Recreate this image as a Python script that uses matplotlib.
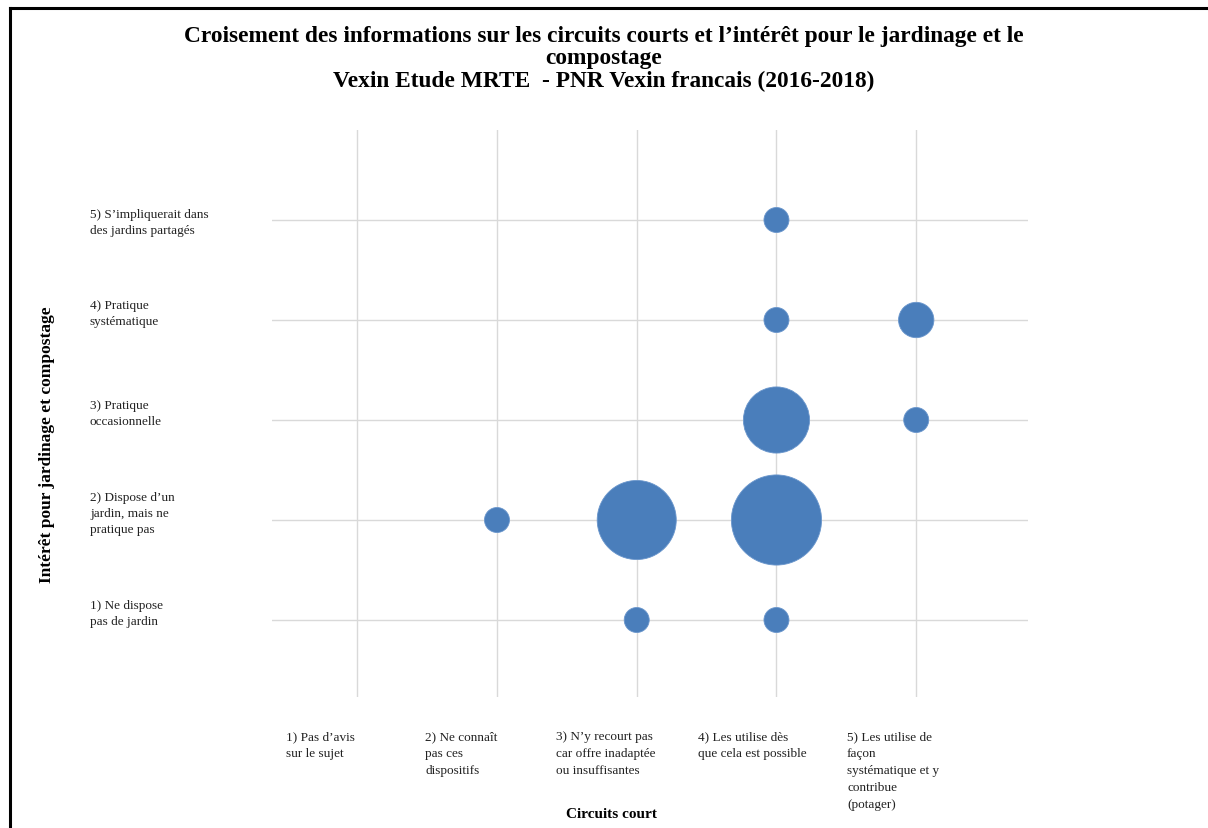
import matplotlib
matplotlib.use('Agg')
import matplotlib.pyplot as plt
from matplotlib.transforms import blended_transform_factory
from matplotlib.lines import Line2D

# ---- data ----
x_levels = [1, 2, 3, 4, 5]
y_levels = [1, 2, 3, 4, 5]
x_labels = ["1) Pas d’avis\nsur le sujet",
            "2) Ne connaît\npas ces\ndispositifs",
            "3) N’y recourt pas\ncar offre inadaptée\nou insuffisantes",
            "4) Les utilise dès\nque cela est possible",
            "5) Les utilise de\nfaçon\nsystématique et y\ncontribue\n(potager)"]
y_labels = ["1) Ne dispose\npas de jardin",
            "2) Dispose d’un\njardin, mais ne\npratique pas",
            "3) Pratique\noccasionnelle",
            "4) Pratique\nsystématique",
            "5) S’impliquerait dans\ndes jardins partagés"]
bubble_x = [4, 4, 5, 4, 5, 2, 3, 4, 3, 4]
bubble_y = [5, 4, 4, 3, 3, 2, 2, 2, 1, 1]
bubble_n = [1, 1, 2, 7, 1, 1, 10, 13, 1, 1]

title = ("Croisement des informations sur les circuits courts et l’intérêt pour le jardinage et le\n"
         "compostage\nVexin Etude MRTE  - PNR Vexin francais (2016-2018)")
x_title = "Circuits court"
y_title = "Intérêt pour jardinage et compostage"

W, H = 1208, 829
fig = plt.figure(figsize=(W / 100, H / 100), dpi=100)
fig.patch.set_facecolor('white')
serif = ['Liberation Serif', 'DejaVu Serif']

# axes placement in pixels
L, R, T, B = 272, 1028, 131, 698
ax = fig.add_axes([L / W, (H - B) / H, (R - L) / W, (B - T) / H])
ax.set_xlim(0.39, 5.80)
ax.set_ylim(0.23, 5.90)
for s in ax.spines.values():
    s.set_visible(False)
ax.set_xticks(x_levels)
ax.set_yticks(y_levels)
ax.tick_params(length=0, labelbottom=False, labelleft=False)
ax.grid(True, color='#D9D9D9', linewidth=1.0)
ax.set_axisbelow(True)

px = 0.72  # points per pixel
ax.scatter(bubble_x, bubble_y, s=[n * (25 * px) ** 2 for n in bubble_n],
           color='#4A7EBB', edgecolors='#6A96CC', linewidths=0.6, zorder=3)

# y category labels
tr_y = blended_transform_factory(fig.transFigure, ax.transData)
y_off = [0.07, 0.07, 0.07, 0.07, -0.02]
for yv, lab, off in zip(y_levels, y_labels, y_off):
    ax.text(90 / W, yv + off, lab, transform=tr_y, ha='left', va='center',
            fontsize=9.5, family=serif, linespacing=1.45, color='#222222')

# x category labels
tr_x = blended_transform_factory(ax.transData, fig.transFigure)
x_off = [0.51, 0.515, 0.58, 0.56, 0.495]
for xv, lab, off in zip(x_levels, x_labels, x_off):
    ax.text(xv - off, (H - 731) / H, lab, transform=tr_x, ha='left', va='top',
            fontsize=9.5, family=serif, linespacing=1.55, color='#222222')

fig.text(612 / W, (H - 815) / H, x_title, ha='center', va='center',
         fontsize=11, fontweight='bold', family=serif)
fig.text(47 / W, (H - 445) / H, y_title, ha='center', va='center', rotation=90,
         fontsize=12.5, fontweight='bold', family=serif)

fig.text(604 / W, (H - 59) / H, title, ha='center', va='center',
         fontsize=16.8, fontweight='bold', family=serif, linespacing=1.08)

# border (top and left)
fig.add_artist(Line2D([10 / W, 1.0], [(H - 9) / H, (H - 9) / H],
                      transform=fig.transFigure, color='black', linewidth=2.2))
fig.add_artist(Line2D([10 / W, 10 / W], [(H - 9) / H, 0.0],
                      transform=fig.transFigure, color='black', linewidth=2.2))

fig.savefig('out.png', dpi=100, facecolor='white')
